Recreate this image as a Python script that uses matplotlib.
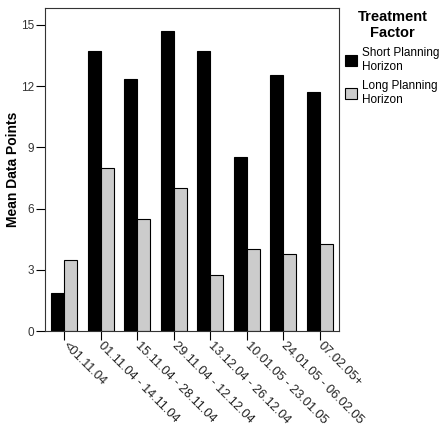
import matplotlib
matplotlib.use("Agg")
import matplotlib.pyplot as plt
import numpy as np

plt.rcParams['font.family'] = ['Liberation Sans', 'DejaVu Sans']

categories = ["<01.11.04", "01.11.04 - 14.11.04", "15.11.04 - 28.11.04",
              "29.11.04 - 12.12.04", "13.12.04 - 26.12.04", "10.01.05 - 23.01.05",
              "24.01.05 - 06.02.05", "07.02.05+"]
short_vals = [1.85, 13.7, 12.35, 14.7, 13.7, 8.55, 12.55, 11.7]
long_vals = [3.5, 8.0, 5.5, 7.0, 2.75, 4.0, 3.75, 4.25]
series_names = ["Short Planning\nHorizon", "Long Planning\nHorizon"]
yticks = [0, 3, 6, 9, 12, 15]

fig = plt.figure(figsize=(4.47, 4.29), dpi=100)
ax = fig.add_axes([0.1007, 0.2284, 0.6577, 0.753])

x = np.arange(len(categories))
w = 0.355
b1 = ax.bar(x - w/2, short_vals, w, color='black', edgecolor='black', linewidth=0.8, label=series_names[0])
b2 = ax.bar(x + w/2, long_vals, w, color='#cccccc', edgecolor='black', linewidth=0.8, label=series_names[1])

ax.set_xlim(-0.52, 7.52)
ax.set_ylim(0, 15.83)
ax.set_yticks(yticks)
ax.set_yticklabels([str(t) for t in yticks], fontsize=8.5, color='#333333')
ax.set_xticks(x)
ax.set_xticklabels(categories, rotation=-45, ha='left', va='center', rotation_mode='anchor',
                   fontsize=9.2, color='#222222')
ax.tick_params(axis='x', length=6.5, width=0.8, pad=3)
ax.tick_params(axis='y', length=6.5, width=0.8, pad=1.5)
for s in ax.spines.values():
    s.set_linewidth(0.8)
    s.set_color('#333333')
ax.set_ylabel("Mean Data Points", fontsize=10, fontweight='bold', labelpad=0.5)

leg = fig.legend(handles=[b1, b2], labels=series_names, loc='upper left',
                 bbox_to_anchor=(0.762, 0.988), frameon=False, fontsize=8.5,
                 title="Treatment\nFactor", title_fontproperties={'weight': 'bold', 'size': 10.5},
                 handlelength=1.0, handleheight=1.0, handletextpad=0.45, labelspacing=0.6,
                 borderaxespad=0, alignment='center')
leg.get_title().set_multialignment('center')

fig.savefig("out.png", dpi=100)
